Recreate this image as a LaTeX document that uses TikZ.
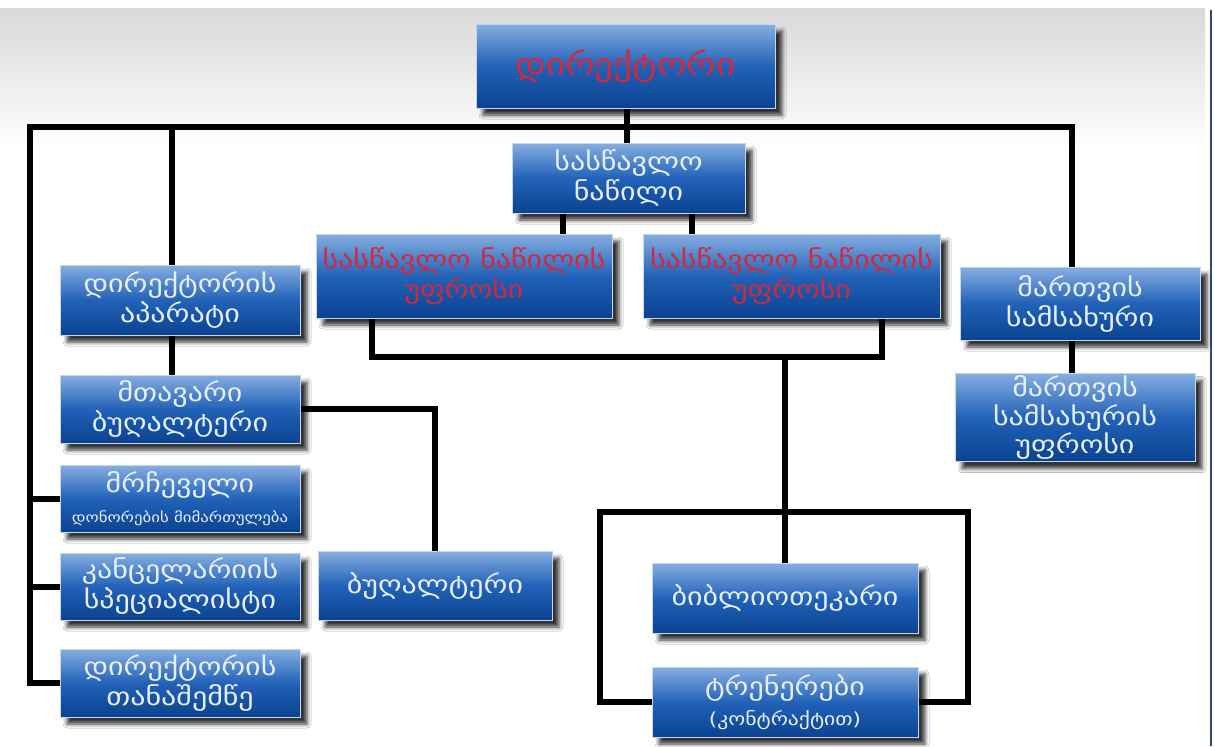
\documentclass[tikz,border=0pt]{standalone}
\usepackage{fontspec}
\setmainfont{DejaVu Sans}[FakeStretch=1.2]
\usetikzlibrary{shadows.blur}
\pgfdeclarelayer{bg}
\pgfsetlayers{bg,main}
\definecolor{btop}{HTML}{86AEE0}
\definecolor{bmid}{HTML}{2262B8}
\definecolor{bbot}{HTML}{0A4290}
\definecolor{txtw}{HTML}{E6EEFA}
\definecolor{txtr}{HTML}{D4283C}
\definecolor{edge}{HTML}{2A4A70}
\tikzset{
  box/.style={draw=btop!50!white, line width=0.4pt, top color=btop, bottom color=bbot, middle color=bmid,
    align=center, text=txtw, font=\fontsize{12.5}{15}\selectfont, inner sep=1pt,
    blur shadow={shadow xshift=3.5pt, shadow yshift=-3.5pt, shadow blur radius=2pt, shadow opacity=80}},
  wh/.style 2 args={minimum width={#1*0.5pt}, minimum height={#2*0.5pt}},
  redtxt/.style={text=txtr},
  conn/.style={line width=3pt, black},
}
\begin{document}
\begin{tikzpicture}[x=0.5pt,y=-0.5pt]
\useasboundingbox (0,0) rectangle (1214,746);
% nodes
\node[box, wh={299}{84}, redtxt, font=\fontsize{15.5}{18}\selectfont] (dir) at (625.5,66) {დირექტორი};
\node[box, wh={233}{70}] (sas) at (628.5,178) {სასწავლო\\ნაწილი};
\node[box, wh={296}{84}, redtxt] (red1) at (464,276) {სასწავლო ნაწილის\\უფროსი};
\node[box, wh={297}{84}, redtxt] (red2) at (791.5,276) {სასწავლო ნაწილის\\უფროსი};
\node[box, wh={240}{70}] (apar) at (180,300) {დირექტორის\\აპარატი};
\node[box, wh={240}{68}] (mtav) at (180,409) {მთავარი\\ბუღალტერი};
\node[box, wh={240}{67}] (mrch) at (180,498.5) {მრჩეველი\\{\fontsize{7}{9}\selectfont დონორების მიმართულება}};
\node[box, wh={240}{67}] (kanc) at (180,586.5) {კანცელარიის\\სპეციალისტი};
\node[box, wh={240}{68}] (tana) at (180,683) {დირექტორის\\თანაშემწე};
\node[box, wh={234}{69}] (bugh) at (435,585.5) {ბუღალტერი};
\node[box, wh={266}{70}] (bibl) at (785,598) {ბიბლიოთეკარი};
\node[box, wh={266}{70}] (tren) at (785,702) {ტრენერები\\{\fontsize{9}{11}\selectfont (კონტრაქტით)}};
\node[box, wh={240}{73}] (mart) at (1080,303.5) {მართვის\\სამსახური};
\node[box, wh={240}{85}, font=\fontsize{12.5}{12}\selectfont] (mufr) at (1075,417.5) {მართვის\\სამსახურის\\უფროსი};
% junction coordinates
\coordinate (busL) at (30,127);
\coordinate (busR) at (1072,127);
\coordinate (ax) at (172,127);
\coordinate (dx) at (627,0);
\coordinate (s1) at (563,0);
\coordinate (s2) at (692,0);
\coordinate (lv1) at (372,357);
\coordinate (lv2) at (882,357);
\coordinate (lp1) at (600,512);
\coordinate (lp2) at (968,512);
\begin{pgfonlayer}{bg}
\fill[white] (0,0) rectangle (1214,746);
\shade[top color=black!15, bottom color=white] (0,8) rectangle (1205,150);
\draw[line width=1pt, edge] (1211,10) -- (1211,746);
\draw[conn] (tana.west) -| (busL) -- (busR) -- (mart.north -| busR);
\draw[conn] (busL |- mrch.west) -- (mrch.west);
\draw[conn] (busL |- kanc.west) -- (kanc.west);
\draw[conn] (ax) -- (apar.north -| ax);
\draw[conn] (apar.south -| ax) -- (mtav.north -| ax);
\draw[conn] (mtav.east) -| (bugh.north);
\draw[conn] (dir.south -| dx) -- (sas.north -| dx);
\draw[conn] (sas.south -| s1) -- (red1.north -| s1);
\draw[conn] (sas.south -| s2) -- (red2.north -| s2);
\draw[conn] (red1.south -| lv1) -- (lv1) -- (lv2) -- (red2.south -| lv2);
\draw[conn] (bibl.north |- lv1) -- (bibl.north);
\draw[conn] (tren.west) -| (lp1) -- (lp2) |- (tren.east);
\draw[conn] (mart.south -| busR) -- (mufr.north -| busR);
\end{pgfonlayer}
\end{tikzpicture}
\end{document}
